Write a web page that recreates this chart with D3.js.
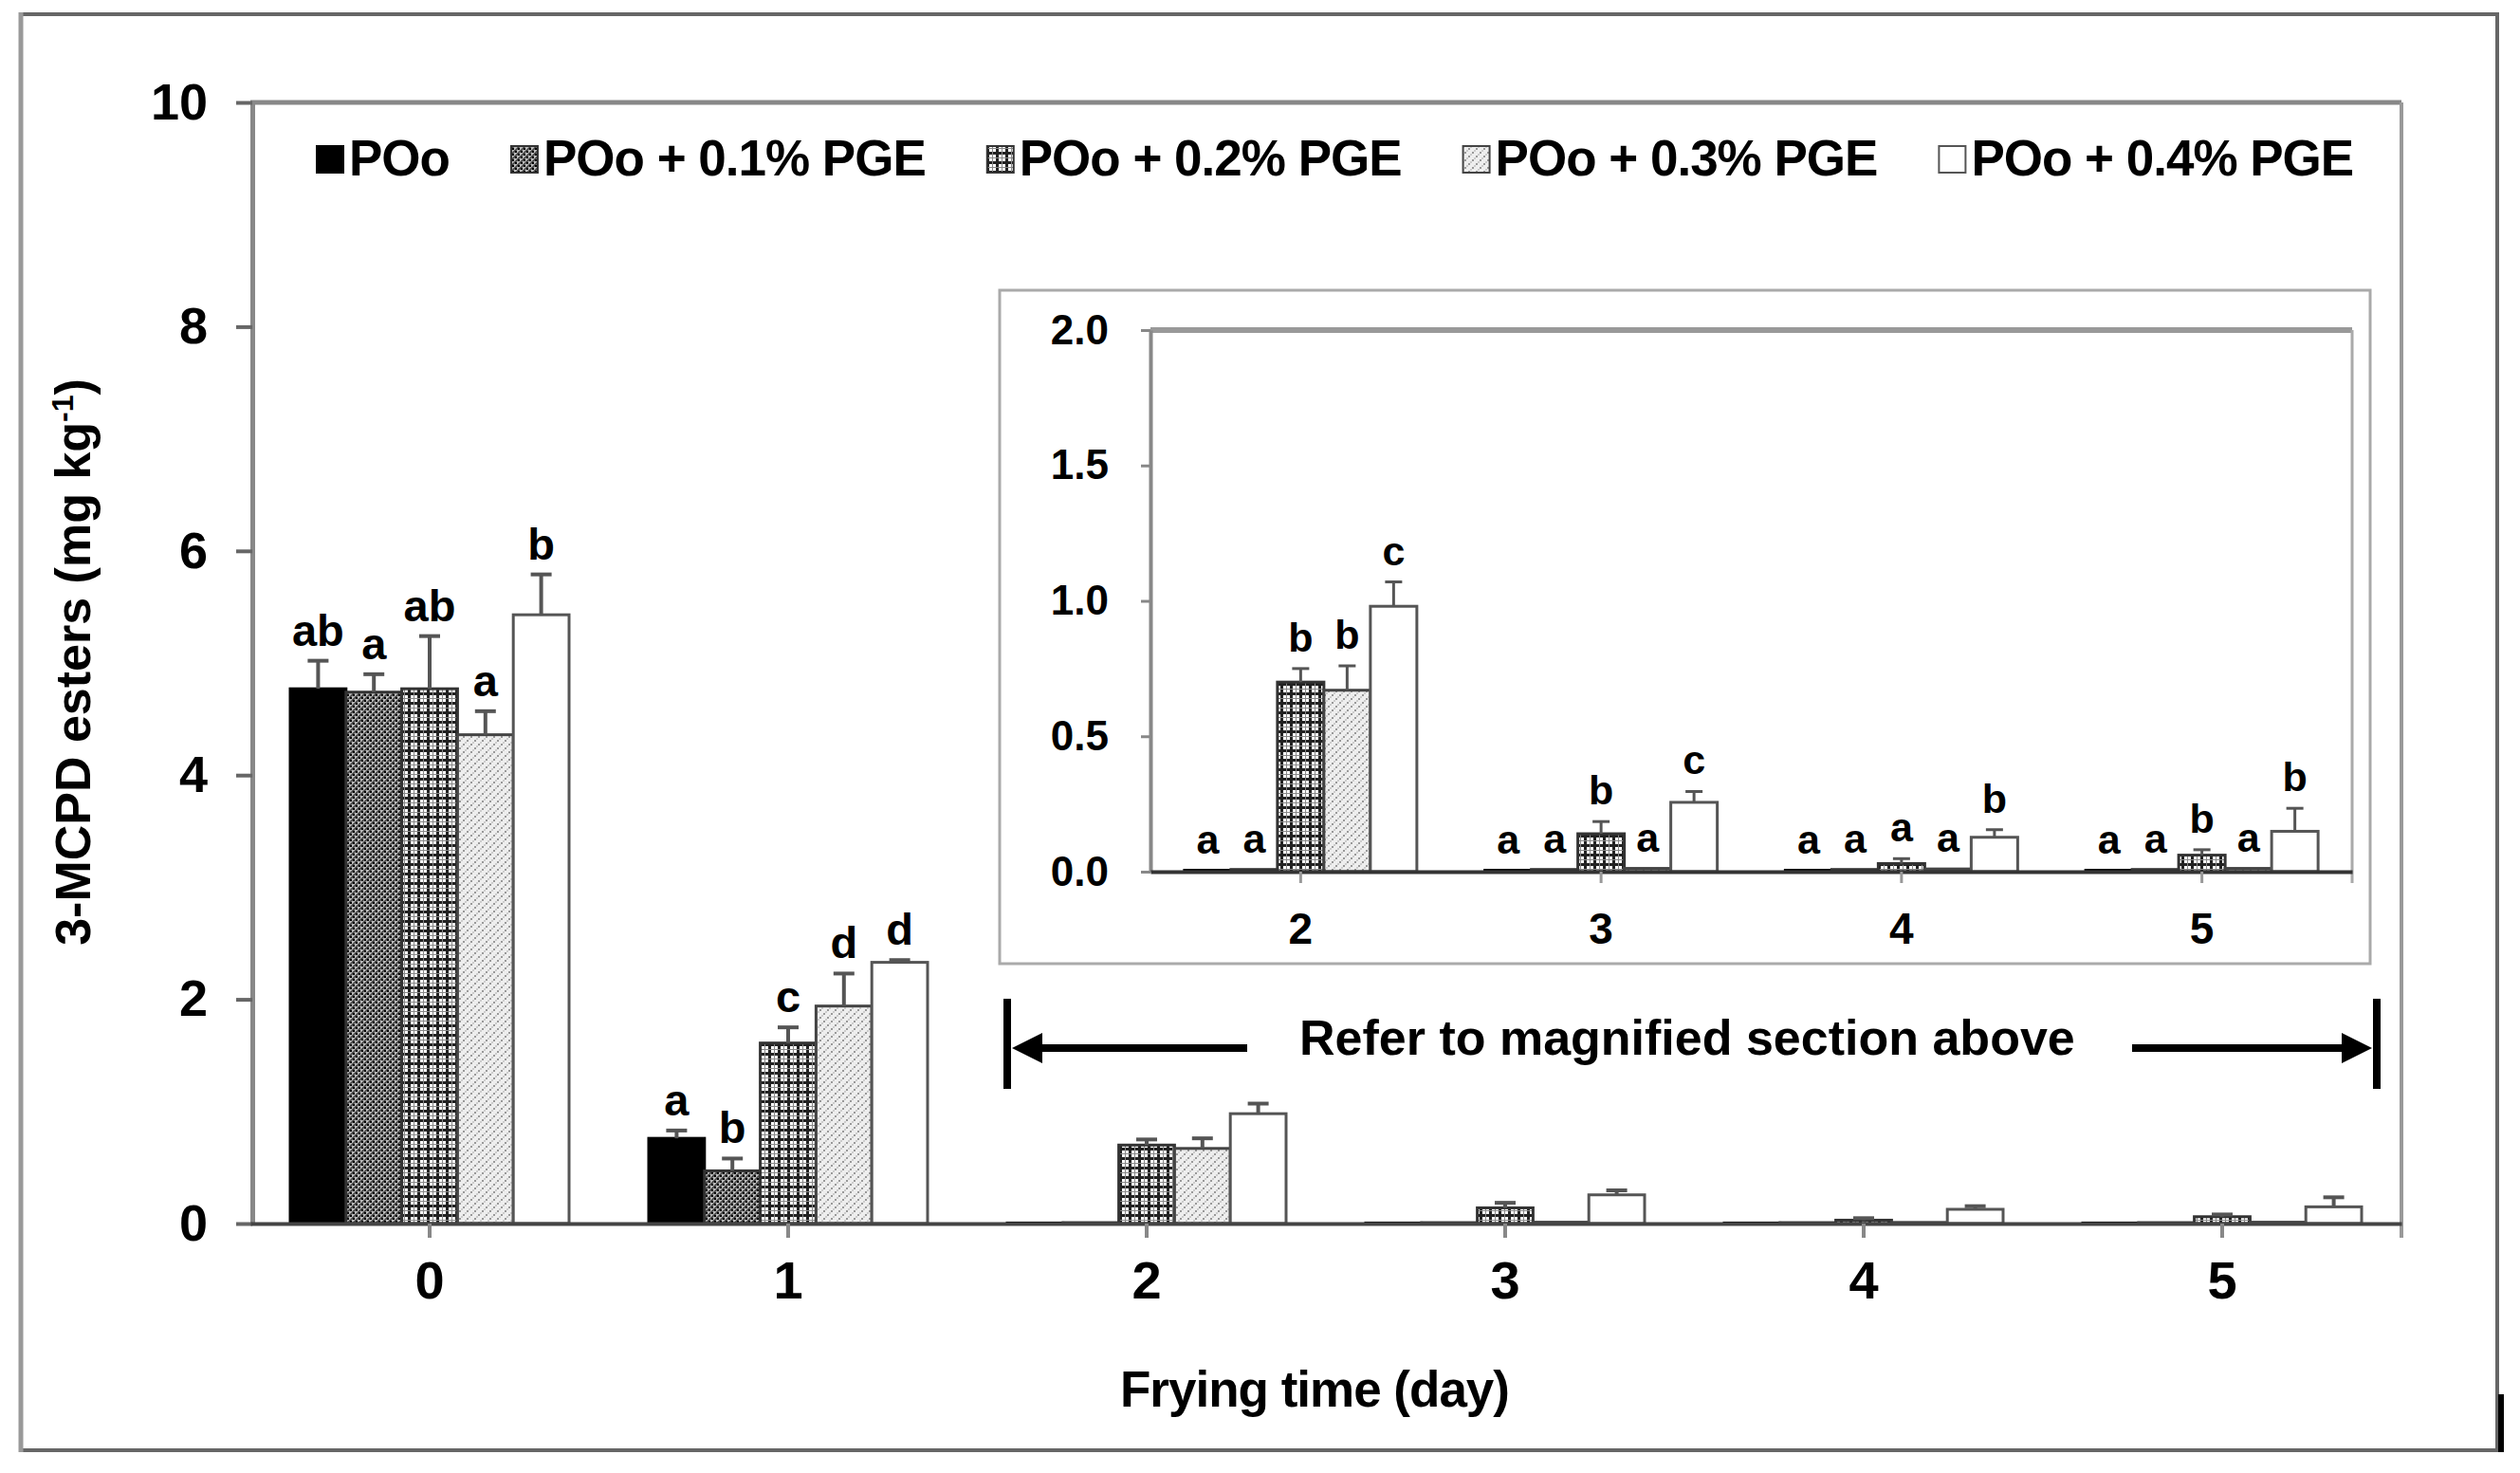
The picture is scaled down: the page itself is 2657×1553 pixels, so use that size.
<!DOCTYPE html>
<html>
<head>
<meta charset="utf-8">
<script src="https://cdn.jsdelivr.net/npm/d3@7"></script>
<style>
  body { margin: 0; background: #fff; }
  text { font-family: "Liberation Sans", Arial, sans-serif; font-weight: bold; fill: #000; }
</style>
</head>
<body>
<div id="chart"></div>
<script>
const W = 2657, H = 1553;

// data
const days = ["0", "1", "2", "3", "4", "5"];
const insetDays = ["2", "3", "4", "5"];
const series = ["POo", "POo + 0.1% PGE", "POo + 0.2% PGE", "POo + 0.3% PGE", "POo + 0.4% PGE"];

const meanPOo   = [4.77, 0.76, 0.005, 0.005, 0.005, 0.005];
const meanPGE01 = [4.74, 0.47, 0.008, 0.008, 0.008, 0.008];
const meanPGE02 = [4.77, 1.61, 0.70, 0.14, 0.03, 0.061];
const meanPGE03 = [4.36, 1.94, 0.67, 0.012, 0.01, 0.012];
const meanPGE04 = [5.43, 2.33, 0.98, 0.256, 0.127, 0.149];

const sdPOo   = [0.25, 0.07, 0, 0, 0, 0];
const sdPGE01 = [0.16, 0.11, 0, 0, 0, 0];
const sdPGE02 = [0.47, 0.14, 0.05, 0.045, 0.018, 0.02];
const sdPGE03 = [0.21, 0.29, 0.09, 0, 0, 0];
const sdPGE04 = [0.36, 0.02, 0.09, 0.04, 0.028, 0.085];

const letPOo   = ["ab", "a", "a", "a", "a", "a"];
const letPGE01 = ["a", "b", "a", "a", "a", "a"];
const letPGE02 = ["ab", "c", "b", "b", "a", "b"];
const letPGE03 = ["a", "d", "b", "a", "a", "a"];
const letPGE04 = ["b", "d", "c", "c", "b", "b"];

const yTicksMain = [0, 2, 4, 6, 8, 10];
const yTicksInset = [0, 0.5, 1, 1.5, 2];

const means = [meanPOo, meanPGE01, meanPGE02, meanPGE03, meanPGE04];
const sds = [sdPOo, sdPGE01, sdPGE02, sdPGE03, sdPGE04];
const lets = [letPOo, letPGE01, letPGE02, letPGE03, letPGE04];

const fills = ["#000", "url(#p01)", "url(#p02)", "url(#p03)", "#fff"];
const strokes = ["#000", "#333", "#333", "#444", "#555"];

const svg = d3.select("#chart").append("svg").attr("width", W).attr("height", H);
svg.append("rect").attr("width", W).attr("height", H).attr("fill", "#fff");

// fill patterns
const defs = svg.append("defs");
const p1 = defs.append("pattern").attr("id", "p01").attr("patternUnits", "userSpaceOnUse").attr("width", 6).attr("height", 6);
p1.append("rect").attr("width", 6).attr("height", 6).attr("fill", "#bbb");
p1.append("path").attr("d", "M-1,1 L1,-1 M0,6 L6,0 M5,7 L7,5").attr("stroke", "#444").attr("stroke-width", 1.6);
p1.append("rect").attr("x", 0).attr("y", 0).attr("width", 2).attr("height", 2).attr("fill", "#000");
p1.append("rect").attr("x", 3).attr("y", 3).attr("width", 2).attr("height", 2).attr("fill", "#000");

const p2 = defs.append("pattern").attr("id", "p02").attr("patternUnits", "userSpaceOnUse").attr("width", 10).attr("height", 10);
p2.append("rect").attr("width", 10).attr("height", 10).attr("fill", "#fff");
p2.append("path").attr("d", "M0,1.5 H10 M1.5,0 V10").attr("stroke", "#222").attr("stroke-width", 3);
p2.append("path").attr("d", "M0,6.5 H10 M6.5,0 V10").attr("stroke", "#888").attr("stroke-width", 1);

const p3 = defs.append("pattern").attr("id", "p03").attr("patternUnits", "userSpaceOnUse").attr("width", 8).attr("height", 8);
p3.append("rect").attr("width", 8).attr("height", 8).attr("fill", "#eee");
p3.append("rect").attr("x", 0).attr("y", 0).attr("width", 2).attr("height", 2).attr("fill", "#999");
p3.append("rect").attr("x", 4).attr("y", 4).attr("width", 2).attr("height", 2).attr("fill", "#999");
p3.append("rect").attr("x", 2).attr("y", 6).attr("width", 2).attr("height", 2).attr("fill", "#ccc");
p3.append("rect").attr("x", 6).attr("y", 2).attr("width", 2).attr("height", 2).attr("fill", "#ccc");

// outer frame
svg.append("line").attr("x1", 22).attr("x2", 2633).attr("y1", 15).attr("y2", 15).attr("stroke", "#666").attr("stroke-width", 4);
svg.append("line").attr("x1", 22).attr("x2", 2633).attr("y1", 1529).attr("y2", 1529).attr("stroke", "#666").attr("stroke-width", 4);
svg.append("line").attr("x1", 22).attr("x2", 22).attr("y1", 13).attr("y2", 1531).attr("stroke", "#999").attr("stroke-width", 5);
svg.append("line").attr("x1", 2633).attr("x2", 2633).attr("y1", 13).attr("y2", 1531).attr("stroke", "#666").attr("stroke-width", 4);
svg.append("line").attr("x1", 2637).attr("x2", 2637).attr("y1", 1470).attr("y2", 1531).attr("stroke", "#000").attr("stroke-width", 6);

// ---- main chart ----
const xMain = d3.scaleBand().domain(days).range([264, 2532]);
const yMain = d3.scaleLinear().domain([0, 10]).range([1290, 108]);

function drawBars(g, x, y, dayList, groupW, capW, errW, showLetters, letterSize, letterGap) {
    const sx = d3.scaleBand().domain(series).range([0, groupW]);
    dayList.forEach(function (day) {
        const di = days.indexOf(day);
        const x0 = x(day) + (x.bandwidth() - groupW) / 2;
        series.forEach(function (s, si) {
            const v = means[si][di];
            const e = sds[si][di];
            const bx = x0 + sx(s);
            g.append("rect")
                .attr("x", bx)
                .attr("y", y(v))
                .attr("width", sx.bandwidth())
                .attr("height", y(0) - y(v))
                .attr("fill", fills[si])
                .attr("stroke", strokes[si])
                .attr("stroke-width", 3);
            const cx = bx + sx.bandwidth() / 2;
            if (e > 0) {
                g.append("line").attr("x1", cx).attr("x2", cx)
                    .attr("y1", y(v)).attr("y2", y(v + e))
                    .attr("stroke", "#555").attr("stroke-width", errW);
                g.append("line").attr("x1", cx - capW / 2).attr("x2", cx + capW / 2)
                    .attr("y1", y(v + e)).attr("y2", y(v + e))
                    .attr("stroke", "#555").attr("stroke-width", errW);
            }
            if (showLetters) {
                g.append("text")
                    .attr("x", cx)
                    .attr("y", y(v + e) - letterGap)
                    .attr("text-anchor", "middle")
                    .style("font-size", letterSize + "px")
                    .text(lets[si][di]);
            }
        });
    });
}

const main = svg.append("g");

// plot area border (top and right)
main.append("line").attr("x1", 264).attr("x2", 2532).attr("y1", yMain(10)).attr("y2", yMain(10))
    .attr("stroke", "#888").attr("stroke-width", 5);
main.append("line").attr("x1", 2532).attr("x2", 2532).attr("y1", yMain(10)).attr("y2", yMain(0) + 15)
    .attr("stroke", "#999").attr("stroke-width", 4);

drawBars(main, xMain, yMain, ["0", "1"], 294, 22, 4, true, 47, 16);
drawBars(main, xMain, yMain, ["2", "3", "4", "5"], 294, 22, 4, false, 47, 16);

const yAxisMain = main.append("g")
    .attr("transform", "translate(266,0)")
    .call(d3.axisLeft(yMain).tickValues(yTicksMain).tickSize(17).tickSizeOuter(0).tickPadding(30).tickFormat(d3.format("d")));
yAxisMain.select(".domain").attr("stroke", "#888").attr("stroke-width", 5);
yAxisMain.selectAll(".tick line").attr("stroke", "#666").attr("stroke-width", 4);
yAxisMain.selectAll(".tick text").style("font-size", "54px").style("font-family", "Liberation Sans, Arial, sans-serif").attr("fill", "#000");

const xAxisMain = main.append("g")
    .attr("transform", "translate(0," + yMain(0) + ")")
    .call(d3.axisBottom(xMain).tickSize(15).tickSizeOuter(0).tickPadding(24));
xAxisMain.select(".domain").attr("stroke", "#444").attr("stroke-width", 4);
xAxisMain.selectAll(".tick line").attr("stroke", "#888").attr("stroke-width", 4);
xAxisMain.selectAll(".tick text").style("font-size", "56px").style("font-family", "Liberation Sans, Arial, sans-serif").attr("fill", "#000");

// axis titles
svg.append("text")
    .attr("x", 1386).attr("y", 1483)
    .attr("text-anchor", "middle")
    .style("font-size", "53px")
    .style("letter-spacing", "-1px")
    .text("Frying time (day)");

const yTitle = svg.append("text")
    .attr("transform", "translate(95,698) rotate(-90)")
    .attr("text-anchor", "middle")
    .style("font-size", "52px");
yTitle.append("tspan").text("3-MCPD esters (mg kg");
yTitle.append("tspan").attr("baseline-shift", "super").style("font-size", "32px").text("-1");
yTitle.append("tspan").text(")");

// legend
let lx = 334;
series.forEach(function (s, si) {
    svg.append("rect")
        .attr("x", lx).attr("y", 154).attr("width", 28).attr("height", 28)
        .attr("fill", fills[si]).attr("stroke", strokes[si]).attr("stroke-width", 2);
    const t = svg.append("text")
        .attr("x", lx + 34).attr("y", 185)
        .style("font-size", "53px")
        .style("letter-spacing", "-1px")
        .text(s);
    lx += 34 + t.node().getComputedTextLength() + 65;
});

// ---- inset ----
const inset = svg.append("g");
inset.append("rect").attr("x", 1054).attr("y", 306).attr("width", 1445).attr("height", 710)
    .attr("fill", "#fff").attr("stroke", "#aaa").attr("stroke-width", 3);

const xIn = d3.scaleBand().domain(insetDays).range([1213, 2480]);
const yIn = d3.scaleLinear().domain([0, 2]).range([919, 348]);

inset.append("line").attr("x1", 1213).attr("x2", 2480).attr("y1", yIn(2)).attr("y2", yIn(2))
    .attr("stroke", "#999").attr("stroke-width", 6);
inset.append("line").attr("x1", 2480).attr("x2", 2480).attr("y1", yIn(2)).attr("y2", yIn(0) + 12)
    .attr("stroke", "#aaa").attr("stroke-width", 3);

drawBars(inset, xIn, yIn, insetDays, 245, 18, 3, true, 43, 18);

const yAxisIn = inset.append("g")
    .attr("transform", "translate(1213,0)")
    .call(d3.axisLeft(yIn).tickValues(yTicksInset).tickSize(10).tickSizeOuter(0).tickPadding(34).tickFormat(d3.format(".1f")));
yAxisIn.select(".domain").attr("stroke", "#888").attr("stroke-width", 4);
yAxisIn.selectAll(".tick line").attr("stroke", "#888").attr("stroke-width", 3);
yAxisIn.selectAll(".tick text").style("font-size", "44px").style("font-family", "Liberation Sans, Arial, sans-serif").attr("fill", "#000");

const xAxisIn = inset.append("g")
    .attr("transform", "translate(0," + yIn(0) + ")")
    .call(d3.axisBottom(xIn).tickSize(12).tickSizeOuter(0).tickPadding(31));
xAxisIn.select(".domain").attr("stroke", "#333").attr("stroke-width", 4);
xAxisIn.selectAll(".tick line").attr("stroke", "#999").attr("stroke-width", 3);
xAxisIn.selectAll(".tick text").style("font-size", "46px").style("font-family", "Liberation Sans, Arial, sans-serif").attr("fill", "#000");

// ---- "refer to" arrows ----
const ay = 1105;
svg.append("line").attr("x1", 1062).attr("x2", 1062).attr("y1", 1053).attr("y2", 1148).attr("stroke", "#000").attr("stroke-width", 8);
svg.append("line").attr("x1", 2506).attr("x2", 2506).attr("y1", 1053).attr("y2", 1148).attr("stroke", "#000").attr("stroke-width", 8);
svg.append("line").attr("x1", 1090).attr("x2", 1315).attr("y1", ay).attr("y2", ay).attr("stroke", "#000").attr("stroke-width", 8);
svg.append("path").attr("d", "M1067," + ay + " L1099," + (ay - 16) + " L1099," + (ay + 16) + " Z").attr("fill", "#000");
svg.append("line").attr("x1", 2248).attr("x2", 2476).attr("y1", ay).attr("y2", ay).attr("stroke", "#000").attr("stroke-width", 8);
svg.append("path").attr("d", "M2501," + ay + " L2469," + (ay - 16) + " L2469," + (ay + 16) + " Z").attr("fill", "#000");
svg.append("text")
    .attr("x", 1370).attr("y", 1112)
    .style("font-size", "52px")
    .text("Refer to magnified section above");
</script>
</body>
</html>
